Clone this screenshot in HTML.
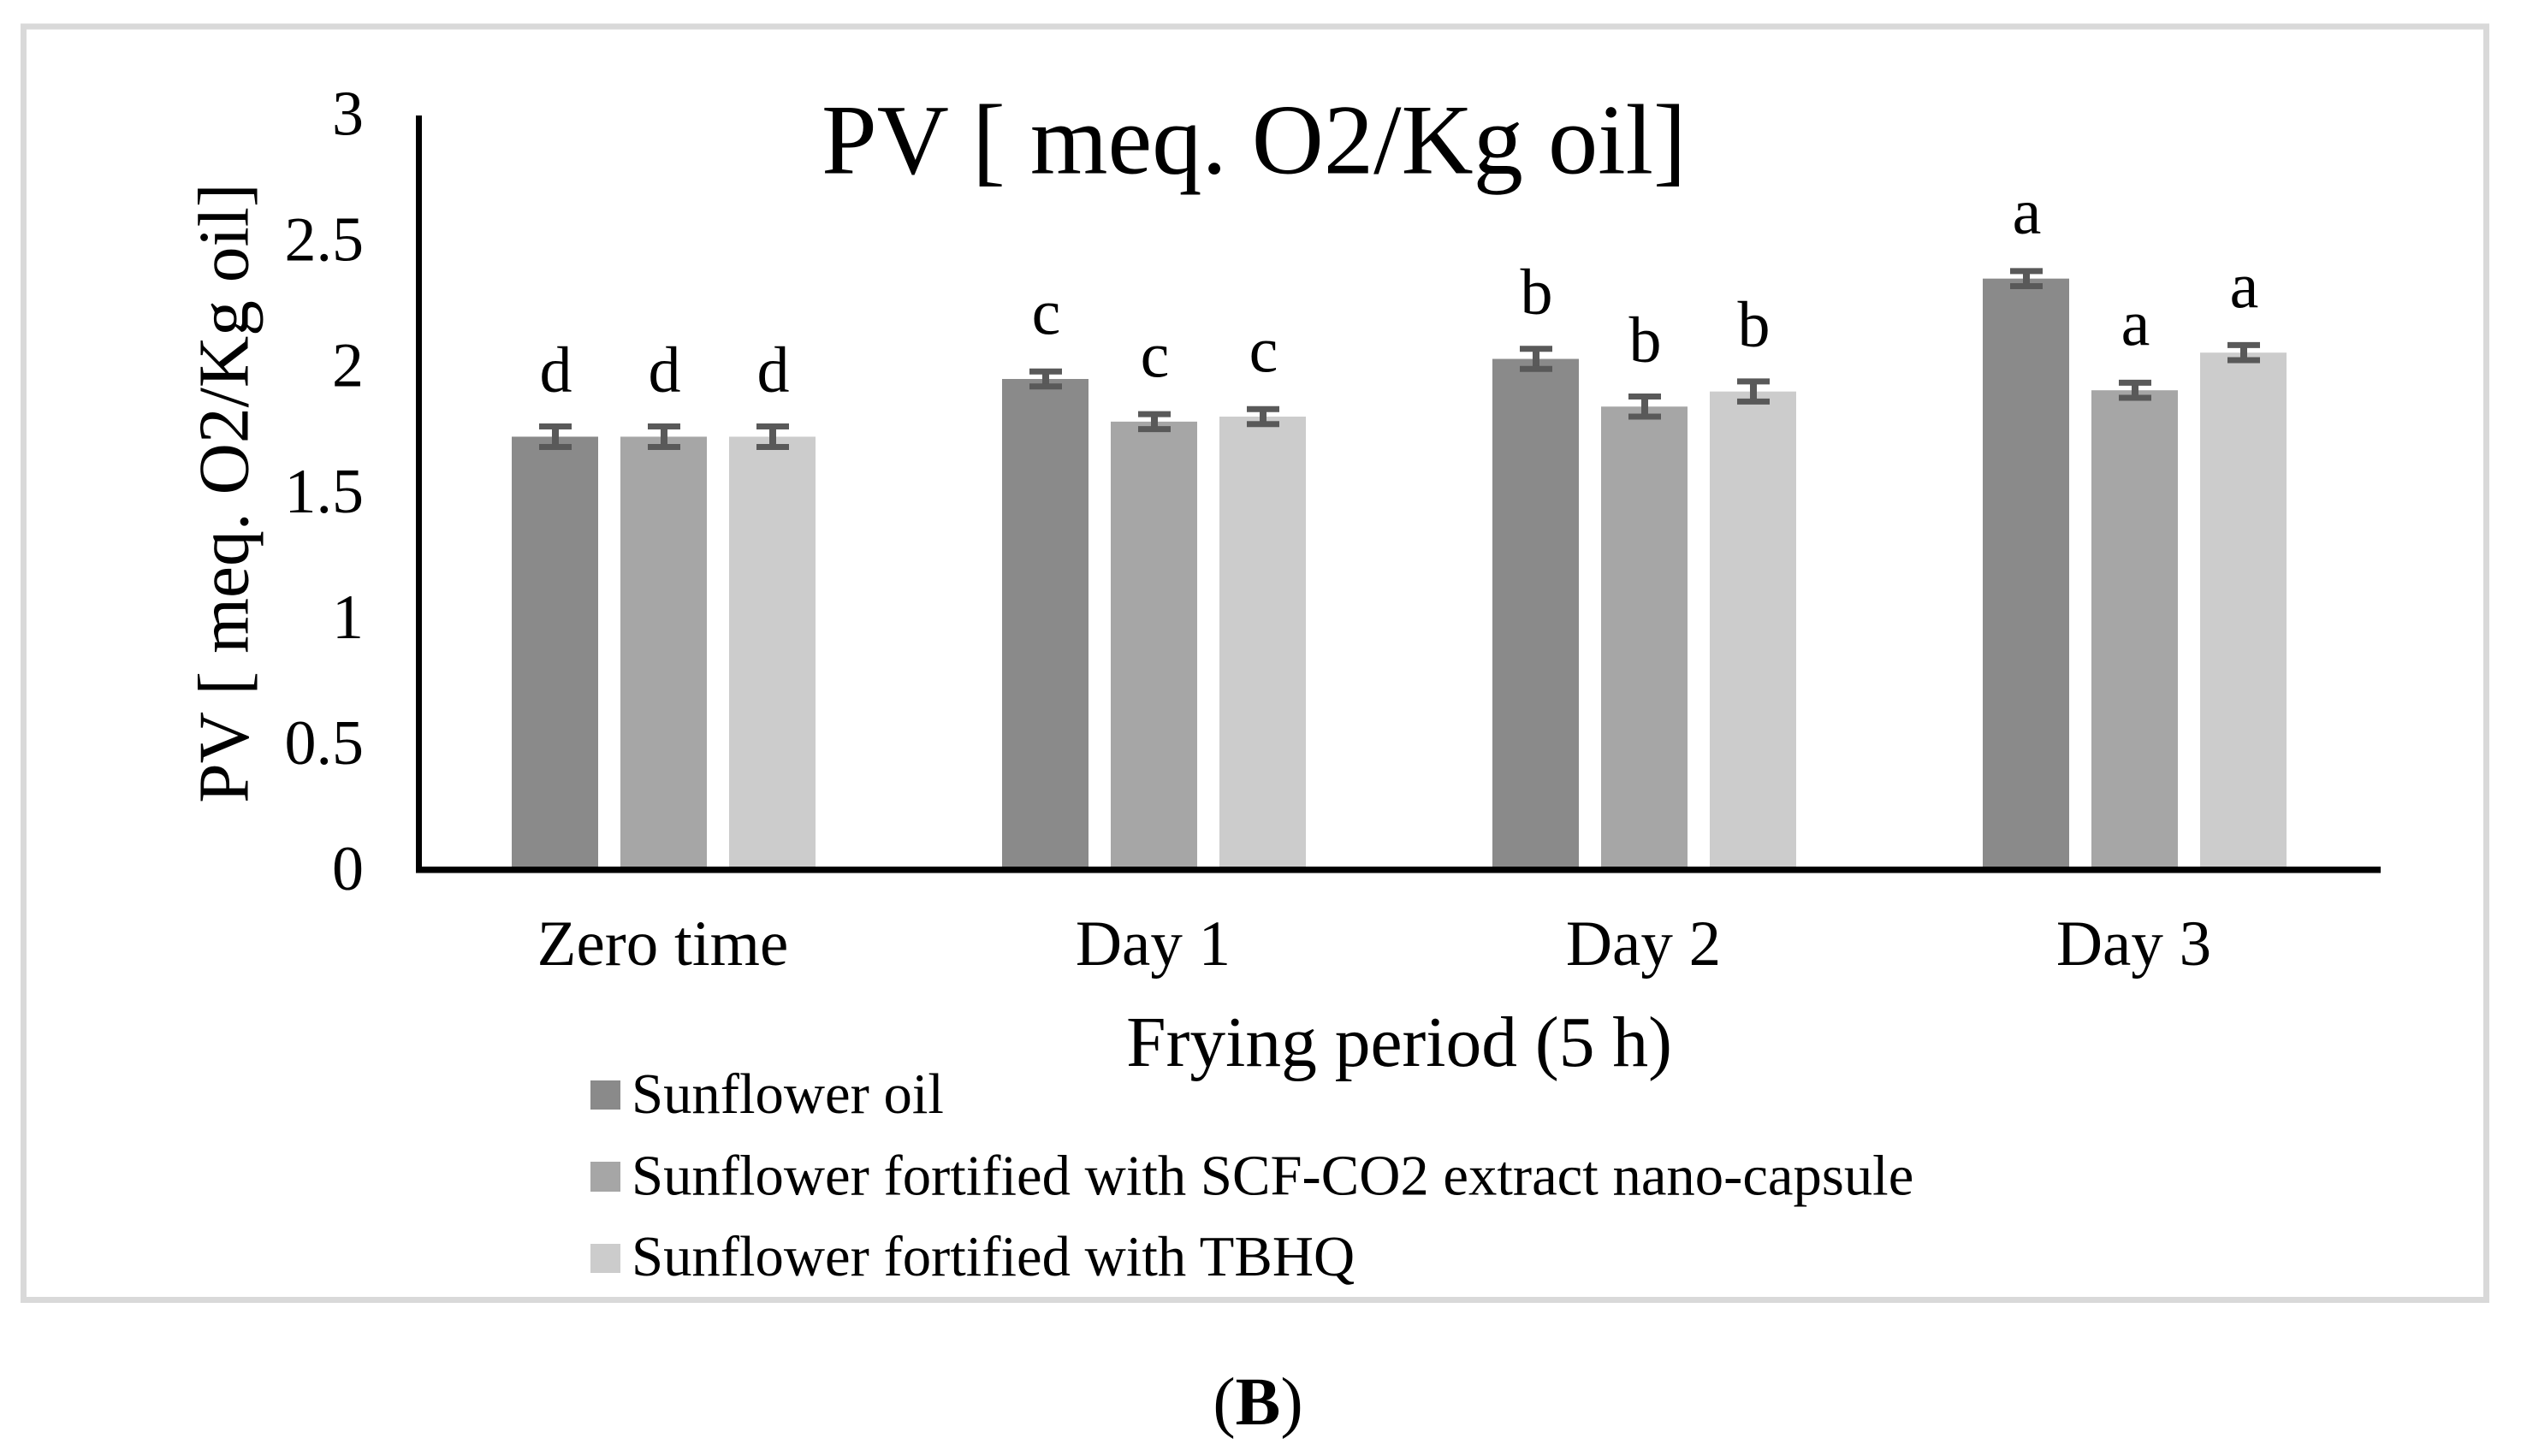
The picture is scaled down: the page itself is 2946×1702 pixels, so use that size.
<!DOCTYPE html>
<html lang="en">
<head>
<meta charset="utf-8">
<title>PV chart</title>
<style>
html,body{margin:0;padding:0;background:#fff;}
svg{display:block;}
text{font-family:"Liberation Serif","Times New Roman",serif;fill:#000;}
</style>
</head>
<body>
<svg id="chart" xmlns="http://www.w3.org/2000/svg" width="2946" height="1702" viewBox="0 0 2946 1702">
  <rect x="0" y="0" width="2946" height="1702" fill="#ffffff"/>
  <rect x="27.5" y="31" width="2878" height="1488.5" fill="none" stroke="#d9d9d9" stroke-width="7"/>
  <g id="bars"></g>
  <g id="errors"></g>
  <g id="letters"></g>
  <g id="yticks"></g>
  <g id="xticks"></g>
  <rect x="486" y="135" width="7" height="885" fill="#000"/>
  <rect x="486" y="1013" width="2296" height="7.5" fill="#000"/>
  <text x="960" y="202.5" font-size="116.5">PV [ meq. O2/Kg oil]</text>
  <text transform="translate(289.5,576.5) rotate(-90)" text-anchor="middle" font-size="83.5">PV [ meq. O2/Kg oil]</text>
  <text x="1635" y="1246" text-anchor="middle" font-size="83.5">Frying period (5 h)</text>
  <g>
    <g>
      <rect x="690" y="1263" width="35" height="34" fill="#8a8a8a"/>
      <text x="738" y="1301" font-size="66.7">Sunflower oil</text>
    </g>
    <g>
      <rect x="690" y="1358" width="35" height="35" fill="#a6a6a6"/>
      <text x="738" y="1396.5" font-size="66.7">Sunflower fortified with SCF-CO2 extract nano-capsule</text>
    </g>
    <g>
      <rect x="690" y="1454" width="35" height="34" fill="#cccccc"/>
      <text x="738" y="1491" font-size="66.7">Sunflower fortified with TBHQ</text>
    </g>
  </g>
  <text x="1470" y="1665" text-anchor="middle" font-size="79">(<tspan font-weight="bold">B</tspan>)</text>
</svg>
<script>
const categories = ["Zero time", "Day 1", "Day 2", "Day 3"];
const sunflowerOil = [1.72, 1.95, 2.03, 2.35];
const sunflowerScf = [1.72, 1.78, 1.84, 1.905];
const sunflowerTbhq = [1.72, 1.80, 1.90, 2.055];
const errorsOil = [0.041, 0.03, 0.04, 0.03];
const errorsScf = [0.041, 0.03, 0.04, 0.03];
const errorsTbhq = [0.041, 0.03, 0.04, 0.03];
const lettersRow = ["d", "c", "b", "a"];
const yTickValues = [0, 0.5, 1, 1.5, 2, 2.5, 3];
const yTickLabels = ["0", "0.5", "1", "1.5", "2", "2.5", "3"];

const seriesValues = [sunflowerOil, sunflowerScf, sunflowerTbhq];
const seriesErrors = [errorsOil, errorsScf, errorsTbhq];
const seriesColors = ["#8a8a8a", "#a6a6a6", "#cccccc"];

const NS = "http://www.w3.org/2000/svg";
const plotLeft = 489, plotRight = 2781, plotBaseline = 1015, plotTop = 135, yMax = 3;
const barWidth = 101, barStep = 127;

function yScale(v) {
  return plotBaseline - (v / yMax) * (plotBaseline - plotTop);
}
function tickBaseline(v) {
  return 1040 - (v / yMax) * 882.5;
}
function categoryCenter(i) {
  return plotLeft + (plotRight - plotLeft) * (i + 0.5) / categories.length;
}
function barCenter(i, s) {
  return categoryCenter(i) + (s - 1) * barStep;
}
function make(tag, attrs, parent) {
  const node = document.createElementNS(NS, tag);
  for (const k in attrs) node.setAttribute(k, attrs[k]);
  parent.appendChild(node);
  return node;
}

const barsG = document.getElementById("bars");
const errorsG = document.getElementById("errors");
const lettersG = document.getElementById("letters");
const yTicksG = document.getElementById("yticks");
const xTicksG = document.getElementById("xticks");

seriesValues.forEach(function (values, s) {
  values.forEach(function (v, i) {
    const cx = barCenter(i, s);
    const top = yScale(v);
    const bar = make("rect", { x: cx - barWidth / 2, y: top, width: barWidth, height: 1013 - top, fill: seriesColors[s] }, barsG);
    
    

    const err = seriesErrors[s][i];
    const hi = yScale(v + err);
    const lo = yScale(v - err);
    const stem = make("line", { x1: cx + 0.5, x2: cx + 0.5, y1: hi, y2: lo, stroke: "#595959", "stroke-width": 8 }, errorsG);
    
    
    const capTop = make("line", { x1: cx - 18.5, x2: cx + 19.5, y1: hi, y2: hi, stroke: "#595959", "stroke-width": 7 }, errorsG);
    
    
    const capBottom = make("line", { x1: cx - 18.5, x2: cx + 19.5, y1: lo, y2: lo, stroke: "#595959", "stroke-width": 7 }, errorsG);
    
    

    const letter = make("text", { x: cx + 1, y: top - 52.5, "text-anchor": "middle", "font-size": 76 }, lettersG);
    letter.textContent = lettersRow[i];
    
    
  });
});

yTickValues.forEach(function (v, i) {
  const t = make("text", { x: 425, y: tickBaseline(v), "text-anchor": "end", "font-size": 74 }, yTicksG);
  t.textContent = yTickLabels[i];
  
  
});

categories.forEach(function (c, i) {
  const t = make("text", { x: categoryCenter(i) - 1, y: 1128, "text-anchor": "middle", "font-size": 75 }, xTicksG);
  t.textContent = c;
  
  
});
</script>
</body>
</html>
